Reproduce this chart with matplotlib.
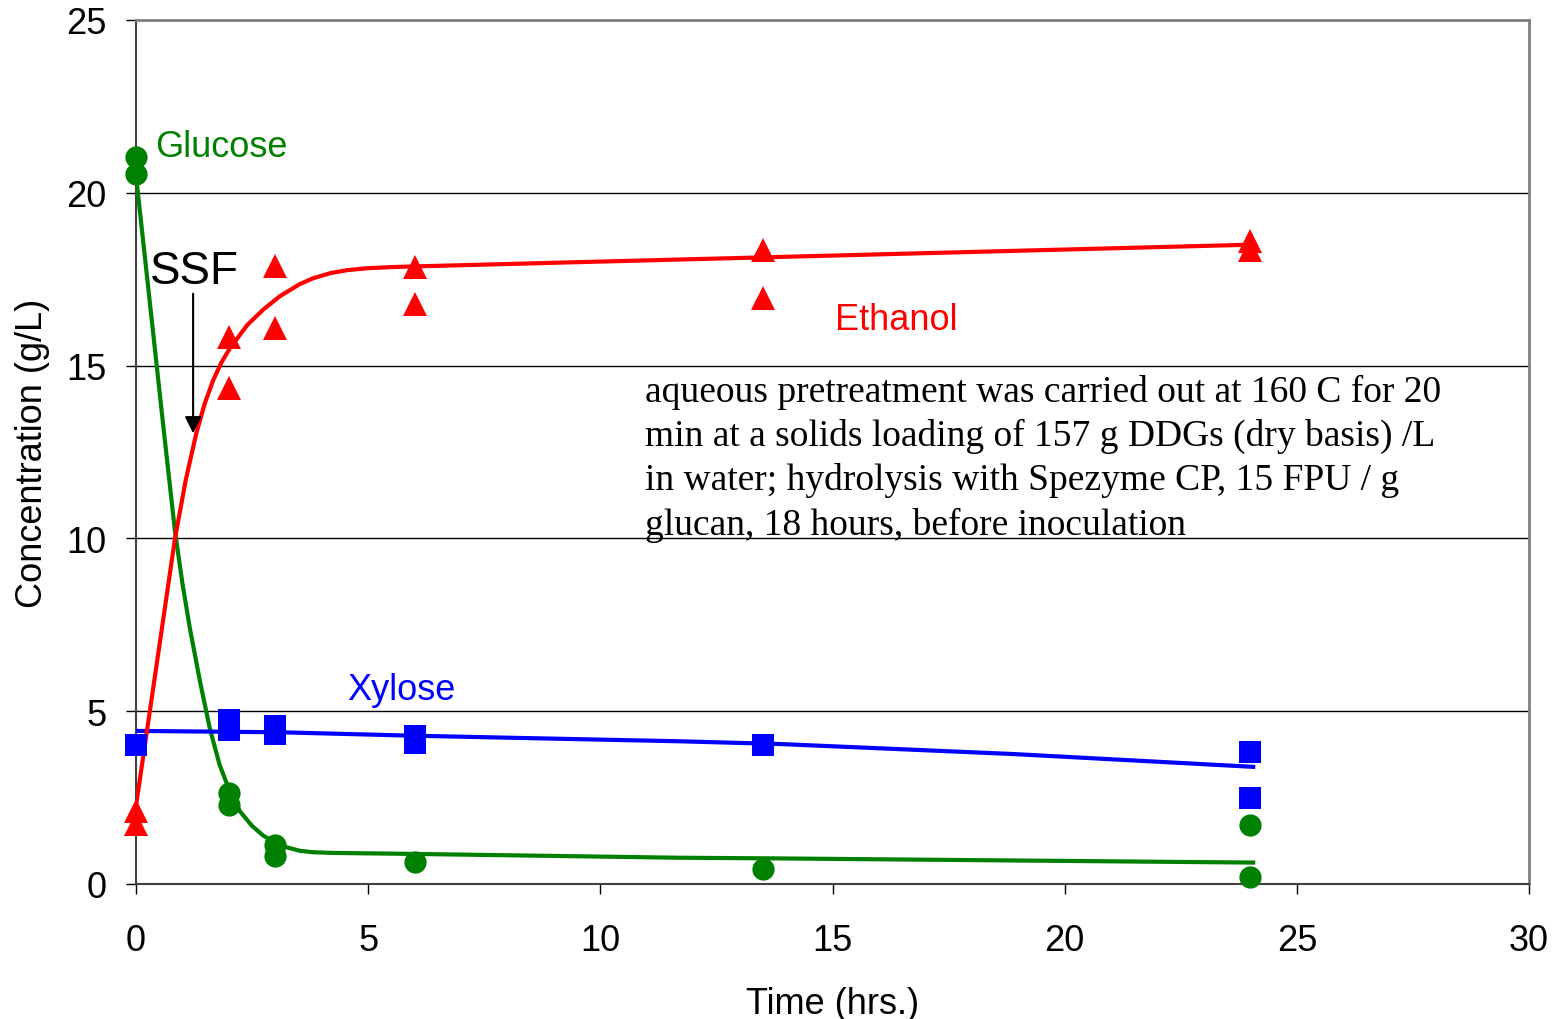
import matplotlib.pyplot as plt
import numpy as np

# measured points
glucose_t = [0, 0, 2, 2, 3, 3, 6, 13.5, 24, 24]
glucose_c = [21.05, 20.55, 2.63, 2.3, 1.12, 0.8, 0.63, 0.43, 1.72, 0.2]

xylose_t = [0, 2, 2, 3, 3, 6, 6, 13.5, 24, 24]
xylose_c = [4.02, 4.75, 4.46, 4.57, 4.34, 4.28, 4.08, 4.02, 3.82, 2.49]

ethanol_t = [0, 0, 2, 2, 3, 3, 6, 6, 13.5, 13.5, 24, 24]
ethanol_c = [2.1, 1.74, 15.83, 14.35, 17.88, 16.09, 17.85, 16.78, 18.35, 16.96, 18.6, 18.35]

# fitted trend curves
glucose_fit_t = [0, 0.6, 0.84, 1.0, 1.16, 1.38, 1.59, 1.8, 2.0, 2.24, 2.5, 2.74, 3.0,
                 3.25, 3.53, 3.8, 4.2, 6.0, 11.7, 13.87, 24.06]
glucose_fit_c = [20.5, 13.1, 10.2, 8.7, 7.4, 5.85, 4.5, 3.45, 2.75, 2.1, 1.68, 1.4, 1.2,
                 1.06, 0.96, 0.92, 0.9, 0.87, 0.76, 0.74, 0.62]

xylose_fit_t = [0, 3.1, 6.0, 11.7, 13.87, 18.9, 24.06]
xylose_fit_c = [4.43, 4.39, 4.29, 4.13, 4.05, 3.76, 3.39]

ethanol_fit_t = [0, 0.2, 0.45, 0.84, 1.07, 1.3, 1.48, 1.66, 1.84, 2.02, 2.4, 2.74, 3.1,
                 3.53, 3.82, 4.2, 4.54, 5.0, 5.5, 6.0, 24.06]
ethanol_fit_c = [2.26, 4.1, 6.4, 10.0, 11.68, 13.05, 13.9, 14.57, 15.09, 15.5, 16.18, 16.62, 17.01,
                 17.36, 17.53, 17.68, 17.76, 17.82, 17.85, 17.87, 18.5]

note = ('aqueous pretreatment was carried out at 160 C for 20\n'
        'min at a solids loading of 157 g DDGs (dry basis) /L\n'
        'in water; hydrolysis with Spezyme CP, 15 FPU / g\n'
        'glucan, 18 hours, before inoculation')

plt.rcParams['font.family'] = ['Liberation Sans', 'DejaVu Sans']

fig = plt.figure(figsize=(15.59, 10.2), dpi=100)
ax = fig.add_axes([136 / 1559, 135 / 1020, 1393 / 1559, 864 / 1020])

green, red, blue = '#008000', '#ff0000', '#0000ff'

ax.plot(glucose_fit_t, glucose_fit_c, color=green, lw=3, zorder=3)
ax.plot(xylose_fit_t, xylose_fit_c, color=blue, lw=3, zorder=3)
ax.plot(ethanol_fit_t, ethanol_fit_c, color=red, lw=3, zorder=3)

ax.plot(glucose_t, glucose_c, 'o', color=green, ms=16, mew=0, clip_on=False, zorder=4)
ax.plot(xylose_t, xylose_c, 's', color=blue, ms=16, mew=0, clip_on=False, zorder=4)
ax.plot(ethanol_t, ethanol_c, '^', color=red, ms=17, mew=0, clip_on=False, zorder=4)

ax.set_xlim(0, 30)
ax.set_ylim(0, 25)
ax.set_xticks(np.arange(0, 31, 5))
ax.set_yticks(np.arange(0, 26, 5))
ax.tick_params(axis='both', direction='out', length=7, width=1, labelsize=26)
ax.tick_params(axis='x', pad=21)
ax.tick_params(axis='y', pad=14)
ax.yaxis.grid(True, color='black', lw=1)
ax.set_axisbelow(True)

for side in ['top', 'right']:
    ax.spines[side].set_color('#808080')
    ax.spines[side].set_linewidth(2)
for side in ['left', 'bottom']:
    ax.spines[side].set_color('#404040')
    ax.spines[side].set_linewidth(1.5)

ax.set_xlabel('Time (hrs.)', fontsize=26, labelpad=20)
ax.set_ylabel('Concentration (g/L)', fontsize=26, labelpad=12)

ax.text(0.41, 21.35, 'Glucose', color=green, fontsize=26, va='center')
ax.text(15.05, 16.32, 'Ethanol', color=red, fontsize=26, va='center')
ax.text(4.54, 5.64, 'Xylose', color=blue, fontsize=26, va='center')
ax.text(0.3, 17.75, 'SSF', color='black', fontsize=33, va='center')
ax.annotate('', xy=(1.23, 12.96), xytext=(1.23, 17.16),
            arrowprops=dict(arrowstyle='-|>', color='black', lw=1.5, mutation_scale=25))

ax.text(10.96, 12.34, note, fontsize=27, family='Liberation Serif',
        va='center', ha='left', linespacing=1.34)

fig.savefig('out.png', dpi=100)
